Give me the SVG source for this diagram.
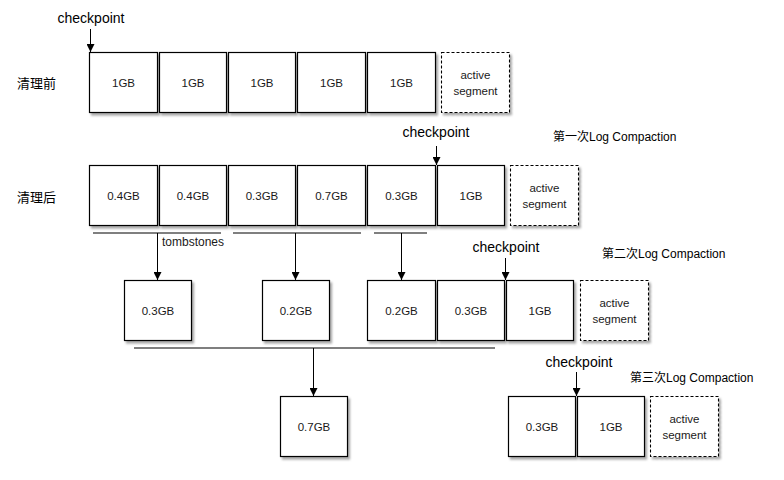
<svg xmlns="http://www.w3.org/2000/svg" width="784" height="480" viewBox="0 0 784 480">
<defs>
  <filter id="sh" x="-10%" y="-10%" width="130%" height="130%">
    <feDropShadow dx="2" dy="2.5" stdDeviation="1.3" flood-color="#000" flood-opacity="0.35"/>
  </filter>
  <marker id="ah" markerUnits="userSpaceOnUse" markerWidth="8" markerHeight="8" refX="8" refY="4" orient="auto">
    <path d="M0,0 L8,4 L0,8 z" fill="#000"/>
  </marker>
  <style>
    .box { fill: #fff; stroke: #000; stroke-width: 1.2; filter: url(#sh); }
    .act { fill: #fff; stroke: #000; stroke-width: 1.1; stroke-dasharray: 3 2; filter: url(#sh); }
    .lbl { font-family: "Liberation Sans", Arial, sans-serif; font-size: 11.5px; fill: #1a1a1a; text-anchor: middle; }
    .cp { font-family: "Liberation Sans", Arial, sans-serif; font-size: 14px; fill: #000; text-anchor: middle; }
    .side { font-family: "Noto Sans CJK SC", "Liberation Sans", sans-serif; font-size: 13px; fill: #000; }
    .cmp { font-family: "Liberation Sans", "Noto Sans CJK SC", sans-serif; font-size: 12px; fill: #000; }
    .cjk { font-family: "Noto Sans CJK SC", sans-serif; }
    .arr { stroke: #000; stroke-width: 1; fill: none; marker-end: url(#ah); }
    .bar { stroke: #555; stroke-width: 1.5; fill: none; }
  </style>
</defs>

<!-- side labels -->
<text class="side" x="17" y="88">清理前</text>
<text class="side" x="17" y="202">清理后</text>

<!-- texts -->
<text class="cp" x="91" y="23">checkpoint</text>
<text class="cp" x="436" y="137">checkpoint</text>
<text class="cp" x="506" y="252">checkpoint</text>
<text class="cp" x="579" y="367">checkpoint</text>
<text class="cmp" x="553" y="141"><tspan class="cjk">第一次</tspan>Log Compaction</text>
<text class="cmp" x="602" y="258"><tspan class="cjk">第二次</tspan>Log Compaction</text>
<text class="cmp" x="630" y="382"><tspan class="cjk">第三次</tspan>Log Compaction</text>
<text class="lbl" x="193" y="246" style="font-size:12px">tombstones</text>

<!-- Row 1 -->
<g id="r1-1"><rect class="box" x="89.5" y="52.5" width="68" height="60"/><text class="lbl" x="123.5" y="87">1GB</text></g>
<g id="r1-2"><rect class="box" x="159.5" y="52.5" width="67" height="60"/><text class="lbl" x="193" y="87">1GB</text></g>
<g id="r1-3"><rect class="box" x="228.5" y="52.5" width="67" height="60"/><text class="lbl" x="262" y="87">1GB</text></g>
<g id="r1-4"><rect class="box" x="297.5" y="52.5" width="68" height="60"/><text class="lbl" x="331.5" y="87">1GB</text></g>
<g id="r1-5"><rect class="box" x="367.5" y="52.5" width="68" height="60"/><text class="lbl" x="401.5" y="87">1GB</text></g>
<g id="r1-act"><rect class="act" x="441.5" y="52.5" width="68" height="60"/><text class="lbl" x="475.5" y="79">active</text><text class="lbl" x="475.5" y="95">segment</text></g>

<!-- Row 2 -->
<g id="r2-1"><rect class="box" x="89.5" y="165.5" width="68" height="60"/><text class="lbl" x="123.5" y="200">0.4GB</text></g>
<g id="r2-2"><rect class="box" x="159.5" y="165.5" width="67" height="60"/><text class="lbl" x="193" y="200">0.4GB</text></g>
<g id="r2-3"><rect class="box" x="228.5" y="165.5" width="67" height="60"/><text class="lbl" x="262" y="200">0.3GB</text></g>
<g id="r2-4"><rect class="box" x="297.5" y="165.5" width="68" height="60"/><text class="lbl" x="331.5" y="200">0.7GB</text></g>
<g id="r2-5"><rect class="box" x="367.5" y="165.5" width="68" height="60"/><text class="lbl" x="401.5" y="200">0.3GB</text></g>
<g id="r2-6"><rect class="box" x="437.5" y="165.5" width="67" height="60"/><text class="lbl" x="471" y="200">1GB</text></g>
<g id="r2-act"><rect class="act" x="510.5" y="165.5" width="68" height="60"/><text class="lbl" x="544.5" y="192">active</text><text class="lbl" x="544.5" y="208">segment</text></g>

<!-- Row 3 -->
<g id="r3-1"><rect class="box" x="124.5" y="280.5" width="67" height="60"/><text class="lbl" x="158" y="315">0.3GB</text></g>
<g id="r3-2"><rect class="box" x="262.5" y="280.5" width="67" height="60"/><text class="lbl" x="296" y="315">0.2GB</text></g>
<g id="r3-3"><rect class="box" x="367.5" y="280.5" width="68" height="60"/><text class="lbl" x="401.5" y="315">0.2GB</text></g>
<g id="r3-4"><rect class="box" x="437.5" y="280.5" width="67" height="60"/><text class="lbl" x="471" y="315">0.3GB</text></g>
<g id="r3-5"><rect class="box" x="506.5" y="280.5" width="67" height="60"/><text class="lbl" x="540" y="315">1GB</text></g>
<g id="r3-act"><rect class="act" x="580.5" y="280.5" width="68" height="60"/><text class="lbl" x="614.5" y="307">active</text><text class="lbl" x="614.5" y="323">segment</text></g>

<!-- Row 4 -->
<g id="r4-1"><rect class="box" x="280.5" y="396.5" width="67" height="60"/><text class="lbl" x="314" y="431">0.7GB</text></g>
<g id="r4-2"><rect class="box" x="508.5" y="396.5" width="67" height="60"/><text class="lbl" x="542" y="431">0.3GB</text></g>
<g id="r4-3"><rect class="box" x="577.5" y="396.5" width="67" height="60"/><text class="lbl" x="611" y="431">1GB</text></g>
<g id="r4-act"><rect class="act" x="650.5" y="396.5" width="68" height="60"/><text class="lbl" x="684.5" y="423">active</text><text class="lbl" x="684.5" y="439">segment</text></g>

<!-- connectors -->
<g id="connectors">
  <line class="arr" x1="90.5" y1="29" x2="90.5" y2="52"/>
  <line class="arr" x1="436.5" y1="146" x2="436.5" y2="165"/>
  <line class="arr" x1="505.5" y1="258" x2="505.5" y2="280"/>
  <line class="arr" x1="576.5" y1="372" x2="576.5" y2="396"/>
  <line class="bar" x1="93" y1="233" x2="221" y2="233"/>
  <line class="bar" x1="233" y1="233" x2="361" y2="233"/>
  <line class="bar" x1="374" y1="233" x2="427" y2="233"/>
  <line class="arr" x1="157.5" y1="233" x2="157.5" y2="280"/>
  <line class="arr" x1="295.5" y1="233" x2="295.5" y2="280"/>
  <line class="arr" x1="401.5" y1="233" x2="401.5" y2="280"/>
  <line class="bar" x1="134" y1="348" x2="495" y2="348"/>
  <line class="arr" x1="313.5" y1="348" x2="313.5" y2="396"/>
</g>
</svg>
